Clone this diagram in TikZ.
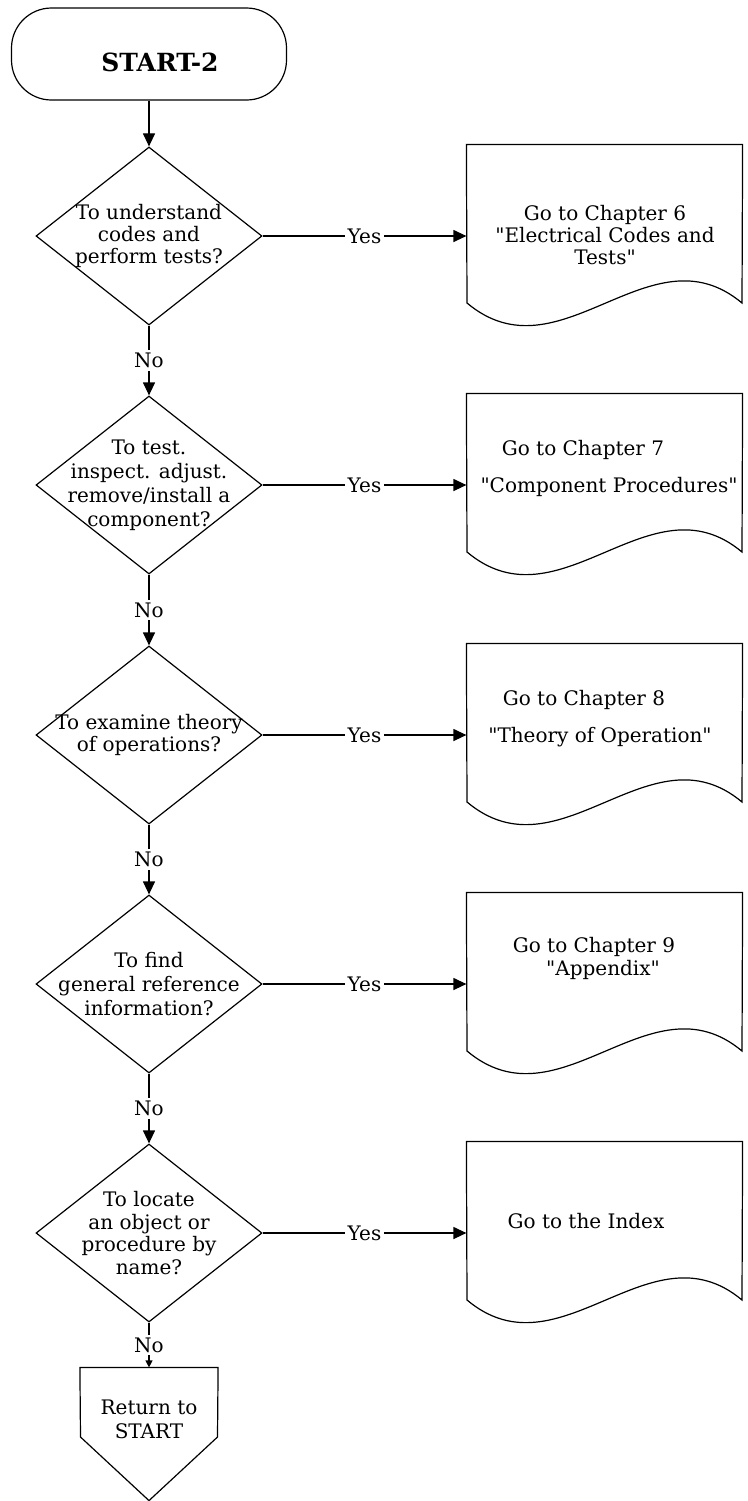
\documentclass[tikz,border=0pt]{standalone}
\usepackage{fontspec}
\setmainfont{DejaVu Serif}
\usetikzlibrary{shapes.geometric,arrows.meta}

\tikzset{
  tip/.style={-{Triangle[length=6.5pt,width=6pt]}},
  smalltip/.style={-{Triangle[length=3.5pt,width=3.5pt]}},
  terminal/.style={draw, rounded corners=20pt, minimum width=137.5pt, minimum height=46pt},
  decision/.style={draw, diamond, inner sep=0pt, minimum width=113pt, minimum height=89pt},
  asktext/.style={align=center, inner sep=0pt},
  docbox/.style={inner sep=0pt, minimum width=137.5pt, minimum height=91pt},
  doctext/.style={align=center, inner sep=0pt},
  answer/.style={fill=white, inner sep=1.5pt},
}

\begin{document}
\begin{tikzpicture}[x=0.5pt, y=-0.5pt, line width=0.6pt, font=\fontsize{10}{11.2}\selectfont]
\useasboundingbox (0,0) rectangle (748,1501);

% start terminal
\node (start) at (149,54) [terminal] {};
\node (startt) at (160,62) [font=\fontsize{12.5}{14}\selectfont\bfseries] {START-2};

% questions
\node (q1) at (149,236) [decision, label={[asktext]center:To understand\\codes and\\perform tests?}] {};
\node (q2) at (149,485) [decision, label={[asktext, font=\fontsize{10}{12}\selectfont]center:To test.\\inspect. adjust.\\remove/install a\\component?}] {};
\node (q3) at (149,735) [decision, label={[asktext]center:To examine theory\\of operations?}] {};
\node (q4) at (149,984) [decision, label={[asktext, font=\fontsize{10}{12}\selectfont]center:To find\\general reference\\information?}] {};
\node (q5) at (149,1233) [decision, label={[asktext]center:To locate\\an object or\\procedure by\\name?}] {};

% documents
\foreach \n/\c in {d1/236, d2/485, d3/735, d4/984, d5/1233} {
  \node (\n) at (604.5,\c) [docbox] {};
  \draw (\n.north west) -- (\n.north east) -- (742,{\c+67})
    .. controls (650,{\c-10}) and (560,{\c+145}) .. (467,{\c+67}) -- cycle;
}
\node (t1) at (605,235) [doctext] {Go to Chapter 6\\\textquotedbl Electrical Codes and\\Tests\textquotedbl};
\node (t2a) at (583,450) [doctext] {Go to Chapter 7};
\node (t2b) at (609,487) [doctext] {\textquotedbl Component Procedures\textquotedbl};
\node (t3a) at (584,700) [doctext] {Go to Chapter 8};
\node (t3b) at (600,737) [doctext] {\textquotedbl Theory of Operation\textquotedbl};
\node (t4a) at (594,947) [doctext] {Go to Chapter 9};
\node (t4b) at (603,970) [doctext] {\textquotedbl Appendix\textquotedbl};
\node (t5) at (586,1221) [doctext] {Go to the Index};

% return connector
\node (ret) at (149,1434) [inner sep=0pt, minimum width=68.5pt, minimum height=66pt] {};
\draw (ret.north west) -- (ret.north east) -- (217.5,1437) -- (ret.south) -- (80.5,1437) -- cycle;
\node (rett) at (149,1419) [doctext, font=\fontsize{10}{12}\selectfont] {Return to\\START};

% connectors
\draw[tip] (start) -- (q1);
\foreach \a/\b in {q1/q2, q2/q3, q3/q4, q4/q5}
  \draw[tip] (\a) -- node[answer] {No} (\b);
\draw[smalltip] (q5) -- node[answer] {No} (ret);
\foreach \i in {1,...,5}
  \draw[tip] (q\i) -- node[answer] {Yes} (d\i);
\end{tikzpicture}
\end{document}
